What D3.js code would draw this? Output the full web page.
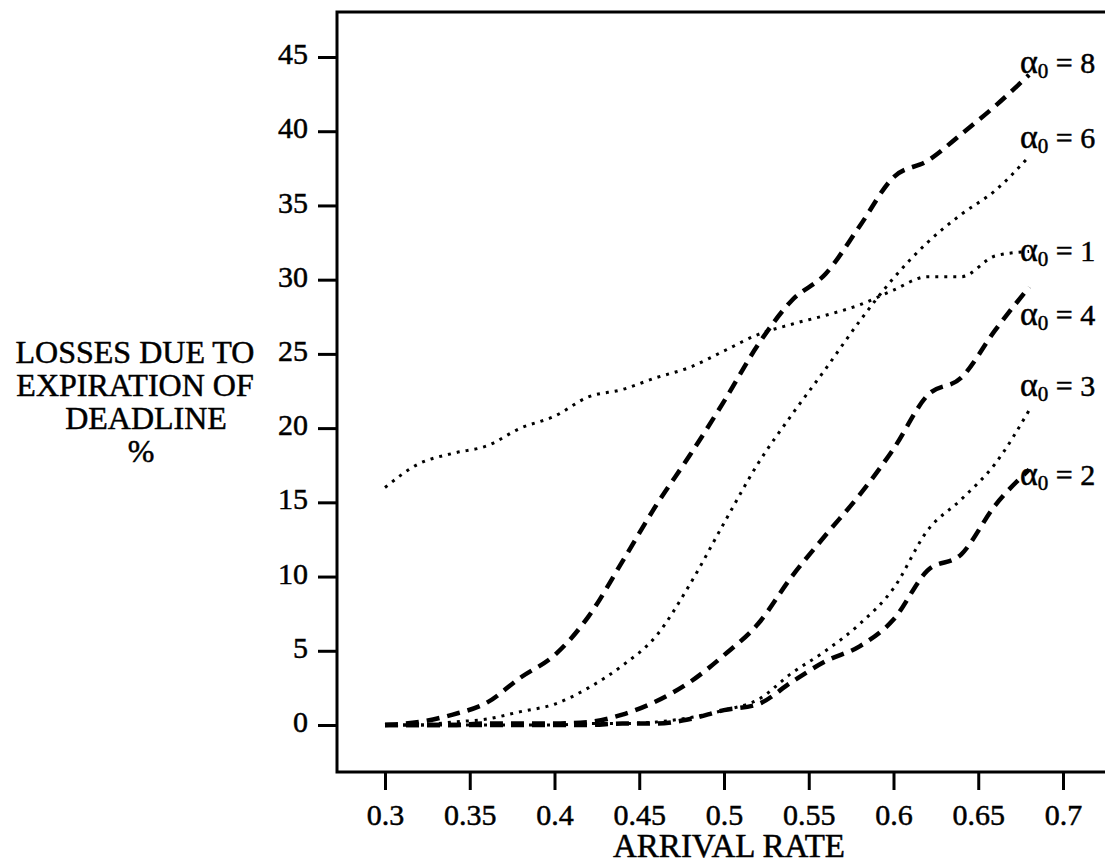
<!DOCTYPE html>
<html>
<head>
<meta charset="utf-8">
<script src="https://cdn.jsdelivr.net/npm/d3@7"></script>
<style>
  body { margin: 0; background: #fff; }
  svg { display: block; }
  text { font-family: "Liberation Serif", "Times New Roman", serif; fill: #000; stroke: #000; stroke-width: 0.5px; }
</style>
</head>
<body>
<svg width="1105" height="867"></svg>
<script>
// arrival rates sampled along the x axis
const rates = [0.30, 0.32, 0.34, 0.36, 0.38, 0.40, 0.42, 0.44, 0.46, 0.48,
               0.50, 0.52, 0.54, 0.56, 0.58, 0.60, 0.62, 0.64, 0.66, 0.68];

// losses (%) for each alpha_0
const alpha8 = [0, 0.2, 0.7, 1.5, 3.2, 4.7, 7.3, 11.0, 14.8, 18.2, 21.8, 25.6, 28.6, 30.4, 33.6, 36.9, 38.0, 39.8, 41.7, 43.8];
const alpha6 = [0, 0, 0.2, 0.4, 0.9, 1.4, 2.5, 4.0, 6.0, 9.5, 13.6, 17.6, 20.9, 24.0, 27.2, 30.1, 32.5, 34.4, 36.0, 38.3];
const alpha1 = [16.0, 17.6, 18.3, 18.8, 20.0, 20.8, 22.1, 22.6, 23.4, 24.1, 25.2, 26.3, 27.0, 27.6, 28.3, 29.3, 30.2, 30.2, 31.6, 31.9];
const alpha4 = [0, 0, 0, 0.1, 0.1, 0.1, 0.2, 0.7, 1.6, 2.9, 4.7, 6.8, 10.0, 12.8, 15.5, 18.6, 22.2, 23.4, 26.6, 29.5];
const alpha3 = [0, 0, 0, 0, 0, 0, 0.1, 0.1, 0.2, 0.5, 1.0, 1.7, 3.5, 5.0, 6.8, 9.2, 13.1, 15.2, 17.6, 21.2];
const alpha2 = [0, 0, 0, 0, 0, 0, 0, 0.1, 0.1, 0.4, 1.0, 1.4, 2.9, 4.3, 5.3, 7.1, 10.4, 11.5, 14.8, 17.2];

const seriesNames = ['8', '6', '1', '4', '3', '2'];
const seriesValues = [alpha8, alpha6, alpha1, alpha4, alpha3, alpha2];
const seriesDashed = [true, false, false, true, false, true];

const xTicks = [0.3, 0.35, 0.4, 0.45, 0.5, 0.55, 0.6, 0.65, 0.7];
const yTicks = [0, 5, 10, 15, 20, 25, 30, 35, 40, 45];
const yTitle = ['LOSSES DUE TO', 'EXPIRATION OF', 'DEADLINE', '%'];

const svg = d3.select('svg');

const x = d3.scaleLinear().domain([0.3, 0.7]).range([385, 1063]);
const y = d3.scaleLinear().domain([0, 45]).range([725, 57]);

// frame (left, top, bottom; right side runs off the page)
const frameLeft = 337, frameTop = 12, frameBottom = 772;
svg.append('path')
  .attr('d', `M1110,${frameTop}H${frameLeft}V${frameBottom}H1110`)
  .attr('fill', 'none')
  .attr('stroke', '#000')
  .attr('stroke-width', 3);

// axes
const yAxis = svg.append('g')
  .attr('transform', `translate(${frameLeft},0)`)
  .call(d3.axisLeft(y).tickValues(yTicks).tickSize(19).tickPadding(10).tickFormat(d3.format('d')));
const xAxis = svg.append('g')
  .attr('transform', `translate(0,${frameBottom})`)
  .call(d3.axisBottom(x).tickValues(xTicks).tickSize(18).tickPadding(14).tickFormat(d => String(d)));

[xAxis, yAxis].forEach(g => {
  g.select('.domain').remove();
  g.selectAll('.tick line').attr('stroke', '#000').attr('stroke-width', 3);
  g.selectAll('.tick text')
    .style('font-family', '"Liberation Serif", serif')
    .style('font-size', '30px')
    .attr('fill', '#000');
});
yAxis.selectAll('.tick text').attr('dy', '0.22em');

// titles
svg.append('text')
  .attr('x', 729).attr('y', 857)
  .attr('text-anchor', 'middle')
  .style('font-size', '33px')
  .text('ARRIVAL RATE');

const titleShift = [0, 0, 11, 6];
svg.append('g').selectAll('text')
  .data(yTitle)
  .join('text')
    .attr('x', (d, i) => 135 + titleShift[i])
    .attr('y', (d, i) => 363 + i * 33)
    .attr('text-anchor', 'middle')
    .style('font-size', '32px')
    .text(d => d);

// curves
const line = d3.line()
  .x((d, i) => x(rates[i]))
  .y(d => y(d))
  .curve(d3.curveMonotoneX);

svg.append('g').selectAll('path')
  .data(seriesValues)
  .join('path')
    .attr('d', line)
    .attr('fill', 'none')
    .attr('stroke', '#000')
    .attr('stroke-width', (d, i) => seriesDashed[i] ? 4.5 : 3)
    .attr('stroke-linecap', 'butt')
    .attr('stroke-dasharray', (d, i) => seriesDashed[i] ? '13 8' : '3 6');

// curve labels, placed near the end of each curve
const labelNudge = [-2, -8, 10, 38, -14, 15];
const labels = svg.append('g').selectAll('text')
  .data(seriesNames)
  .join('text')
    .attr('x', 1020)
    .attr('y', (d, i) => y(seriesValues[i][seriesValues[i].length - 1]) + labelNudge[i])
    .style('font-size', '30px');
labels.append('tspan').style('font-size', '34px').text('α');
labels.append('tspan').attr('dy', 5).style('font-size', '21px').text('0');
labels.append('tspan').attr('dy', -5).text(d => ' = ' + d);
</script>
</body>
</html>
